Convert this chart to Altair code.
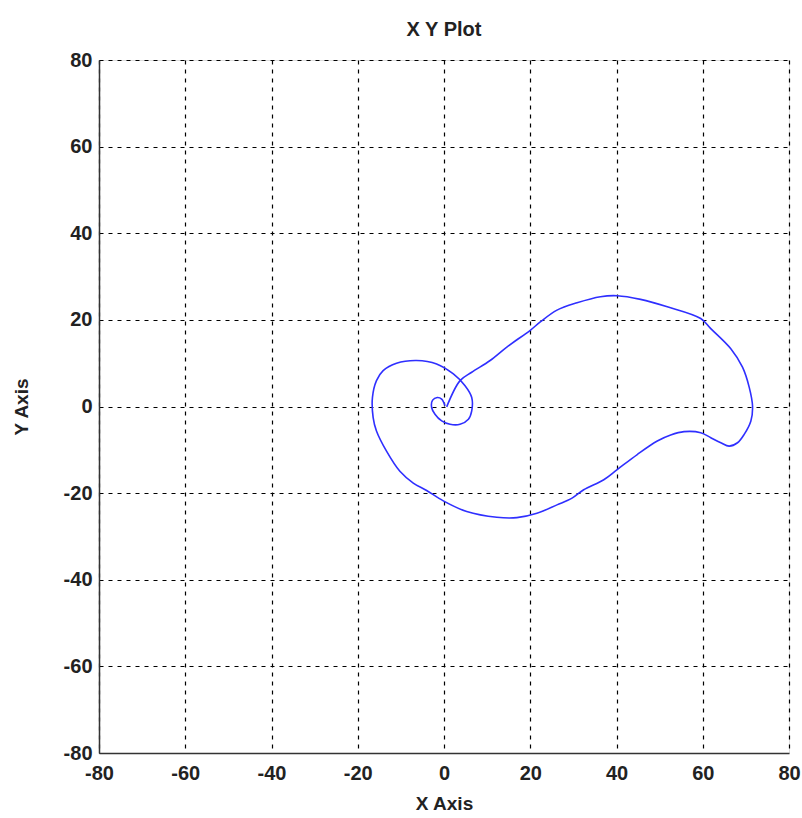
import altair as alt
import pandas as pd

# Curve points (in drawing order)
xs = [0.62, 3.72, 6.43, 10.70, 14.57, 20.0, 22.33, 26.2, 30.85, 36.28, 40.16, 45.58,
      51.78, 59.53, 61.86, 66.51, 69.22, 70.78, 71.55, 71.16, 69.61, 68.06, 66.12,
      64.19, 61.86, 59.53, 55.66, 52.56, 49.46, 44.81, 40.16, 37.05, 32.4, 29.69,
      26.2, 21.55, 16.9, 12.25, 5.27, -0.16, -4.03, -7.13, -10.23, -13.33, -15.66,
      -16.43, -16.59, -15.66, -14.11, -11.01, -6.36, -1.71, 2.17, 4.88, 6.43, 6.43,
      5.66, 3.72, 1.40, -0.54, -2.09, -2.87, -2.64, -1.55, -0.54, 0.23]
ys = [-0.08, 5.97, 7.91, 10.62, 13.72, 17.6, 19.53, 22.25, 23.95, 25.35, 25.58, 24.73,
      23.02, 20.31, 17.98, 13.33, 9.07, 4.42, 0.0, -3.33, -6.43, -8.37, -9.15,
      -8.37, -7.21, -6.05, -5.81, -6.59, -7.98, -11.09, -14.57, -16.9, -19.22, -21.16,
      -22.71, -24.65, -25.66, -25.58, -24.26, -21.78, -19.38, -17.67, -14.96, -10.31, -5.66,
      -2.56, 2.09, 5.97, 8.29, 10.0, 10.62, 9.84, 7.52, 4.81, 2.09, -1.01,
      -2.95, -4.11, -4.11, -3.33, -1.78, -0.23, 1.47, 2.09, 1.71, 0.16]
tick_values = [-80, -60, -40, -20, 0, 20, 40, 60, 80]

df = pd.DataFrame({"x": xs, "y": ys, "i": list(range(len(xs)))})

FONT = "Liberation Sans"

xscale = alt.Scale(domain=[-80, 80], nice=False, zero=False)
yscale = alt.Scale(domain=[-80, 80], nice=False, zero=False)

common = dict(values=tick_values, grid=True, gridColor="#000", gridDash=[4, 5],
              gridWidth=1.2, gridOpacity=1, domain=True, domainColor="#333",
              domainWidth=1.5, ticks=False, labelFont=FONT,
              labelFontSize=20, labelFontWeight="bold", labelColor="#222",
              labelFlush=False, labelExpr="'' + datum.value",
              titleFont=FONT, titleFontSize=19,
              titleFontWeight="bold", titleColor="#222")

line = alt.Chart(df).mark_line(color="#2f2fff", strokeWidth=1.6,
                               interpolate="catmull-rom").encode(
    x=alt.X("x:Q", scale=xscale, title="X Axis",
            axis=alt.Axis(labelPadding=10, titlePadding=11, **common)),
    y=alt.Y("y:Q", scale=yscale, title="Y Axis",
            axis=alt.Axis(labelPadding=7, titlePadding=32, **common)),
    order="i:Q",
)

chart = line.properties(
    width=690, height=693,
    title=alt.TitleParams("X Y Plot", font=FONT, fontSize=20,
                          fontWeight="bold", color="#222", offset=10, anchor="middle"),
    autosize=alt.AutoSizeParams(type="none"),
    padding={"left": 99, "top": 60, "right": 13, "bottom": 65},
).configure_view(stroke="#333", strokeWidth=1.5, fill="white").configure(background="white")

chart.save("out.html", embed_options={"renderer": "svg", "actions": False})
